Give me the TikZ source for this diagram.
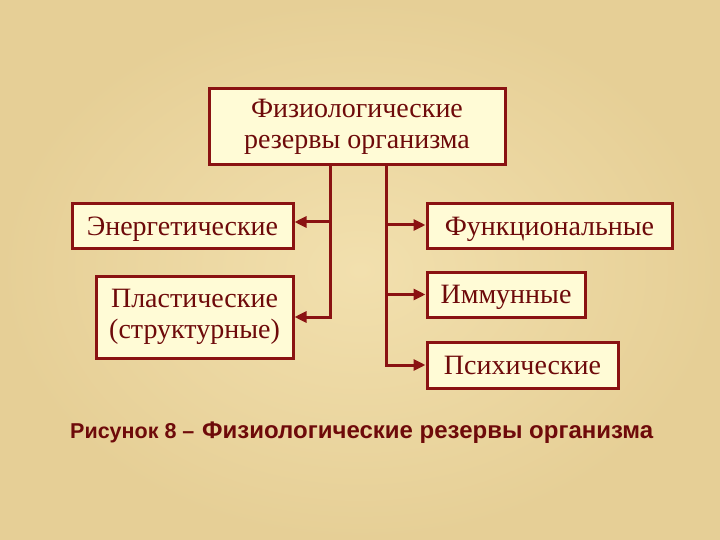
\documentclass[tikz,border=0pt]{standalone}
\usepackage{fontspec}
\setmainfont{Liberation Serif}
\newfontfamily\capfont{Liberation Sans}
\usetikzlibrary{arrows.meta}
\definecolor{bgc}{HTML}{E6CF96}
\definecolor{bgl}{HTML}{F2E0AE}
\definecolor{edgec}{HTML}{8A1212}
\definecolor{txtc}{HTML}{6E0A0A}
\definecolor{fillc}{HTML}{FFFBD6}
\tikzset{
  box/.style={draw=edgec, line width=3pt, fill=fillc, text=txtc, font=\fontsize{28}{30.5}\selectfont, align=center, inner sep=0pt, anchor=center},
  onebox/.style={box, text depth=0pt},
  conn/.style={draw=edgec, line width=3pt},
  arr/.style={conn, -{Triangle[length=12pt,width=11pt]}}
}
\begin{document}
\begin{tikzpicture}[x=1pt,y=-1pt]
\useasboundingbox (0,0) rectangle (720,540);
\shade[inner color=bgl, outer color=bgc] (0,0) rectangle (720,540);
\node[box, minimum width=296pt, minimum height=76pt] (top) at (357,127) {Физиологические\\резервы организма};
\node[onebox, minimum width=221pt, minimum height=44pt] (en) at (182.5,226) {Энергетические};
\node[box, minimum width=197pt, minimum height=82pt] (pl) at (194.5,317) {Пластические\\(структурные)};
\node[onebox, minimum width=245pt, minimum height=44pt] (fu) at (549.5,226) {Функциональные};
\node[onebox, minimum width=158pt, minimum height=45pt] (im) at (506,294.5) {Иммунные};
\node[onebox, minimum width=191pt, minimum height=46pt] (ps) at (522.5,365) {Психические};
\coordinate (L0) at (330,165);
\coordinate (L1) at (330,222);
\coordinate (L2) at (330,317);
\coordinate (R0) at (386,165);
\coordinate (R1) at (386,225);
\coordinate (R2) at (386,294.5);
\coordinate (R3) at (386,365);
\draw[conn] (L0) -- (330,318.5);
\draw[conn] (R0) -- (386,366.5);
\draw[arr] (L1) -- (en.east |- L1);
\draw[arr] (L2) -- (pl.east |- L2);
\draw[arr] (R1) -- (fu.west |- R1);
\draw[arr] (R2) -- (im.west |- R2);
\draw[arr] (R3) -- (ps.west |- R3);
\node[anchor=base west, text=txtc, font=\capfont\bfseries\fontsize{21.5}{25}\selectfont, inner sep=0pt] (c1) at (70,438) {Рисунок 8 –};
\node[anchor=base west, text=txtc, font=\capfont\bfseries\fontsize{24}{28}\selectfont, inner sep=0pt] (c2) at (202,438) {Физиологические резервы организма};
\end{tikzpicture}
\end{document}
